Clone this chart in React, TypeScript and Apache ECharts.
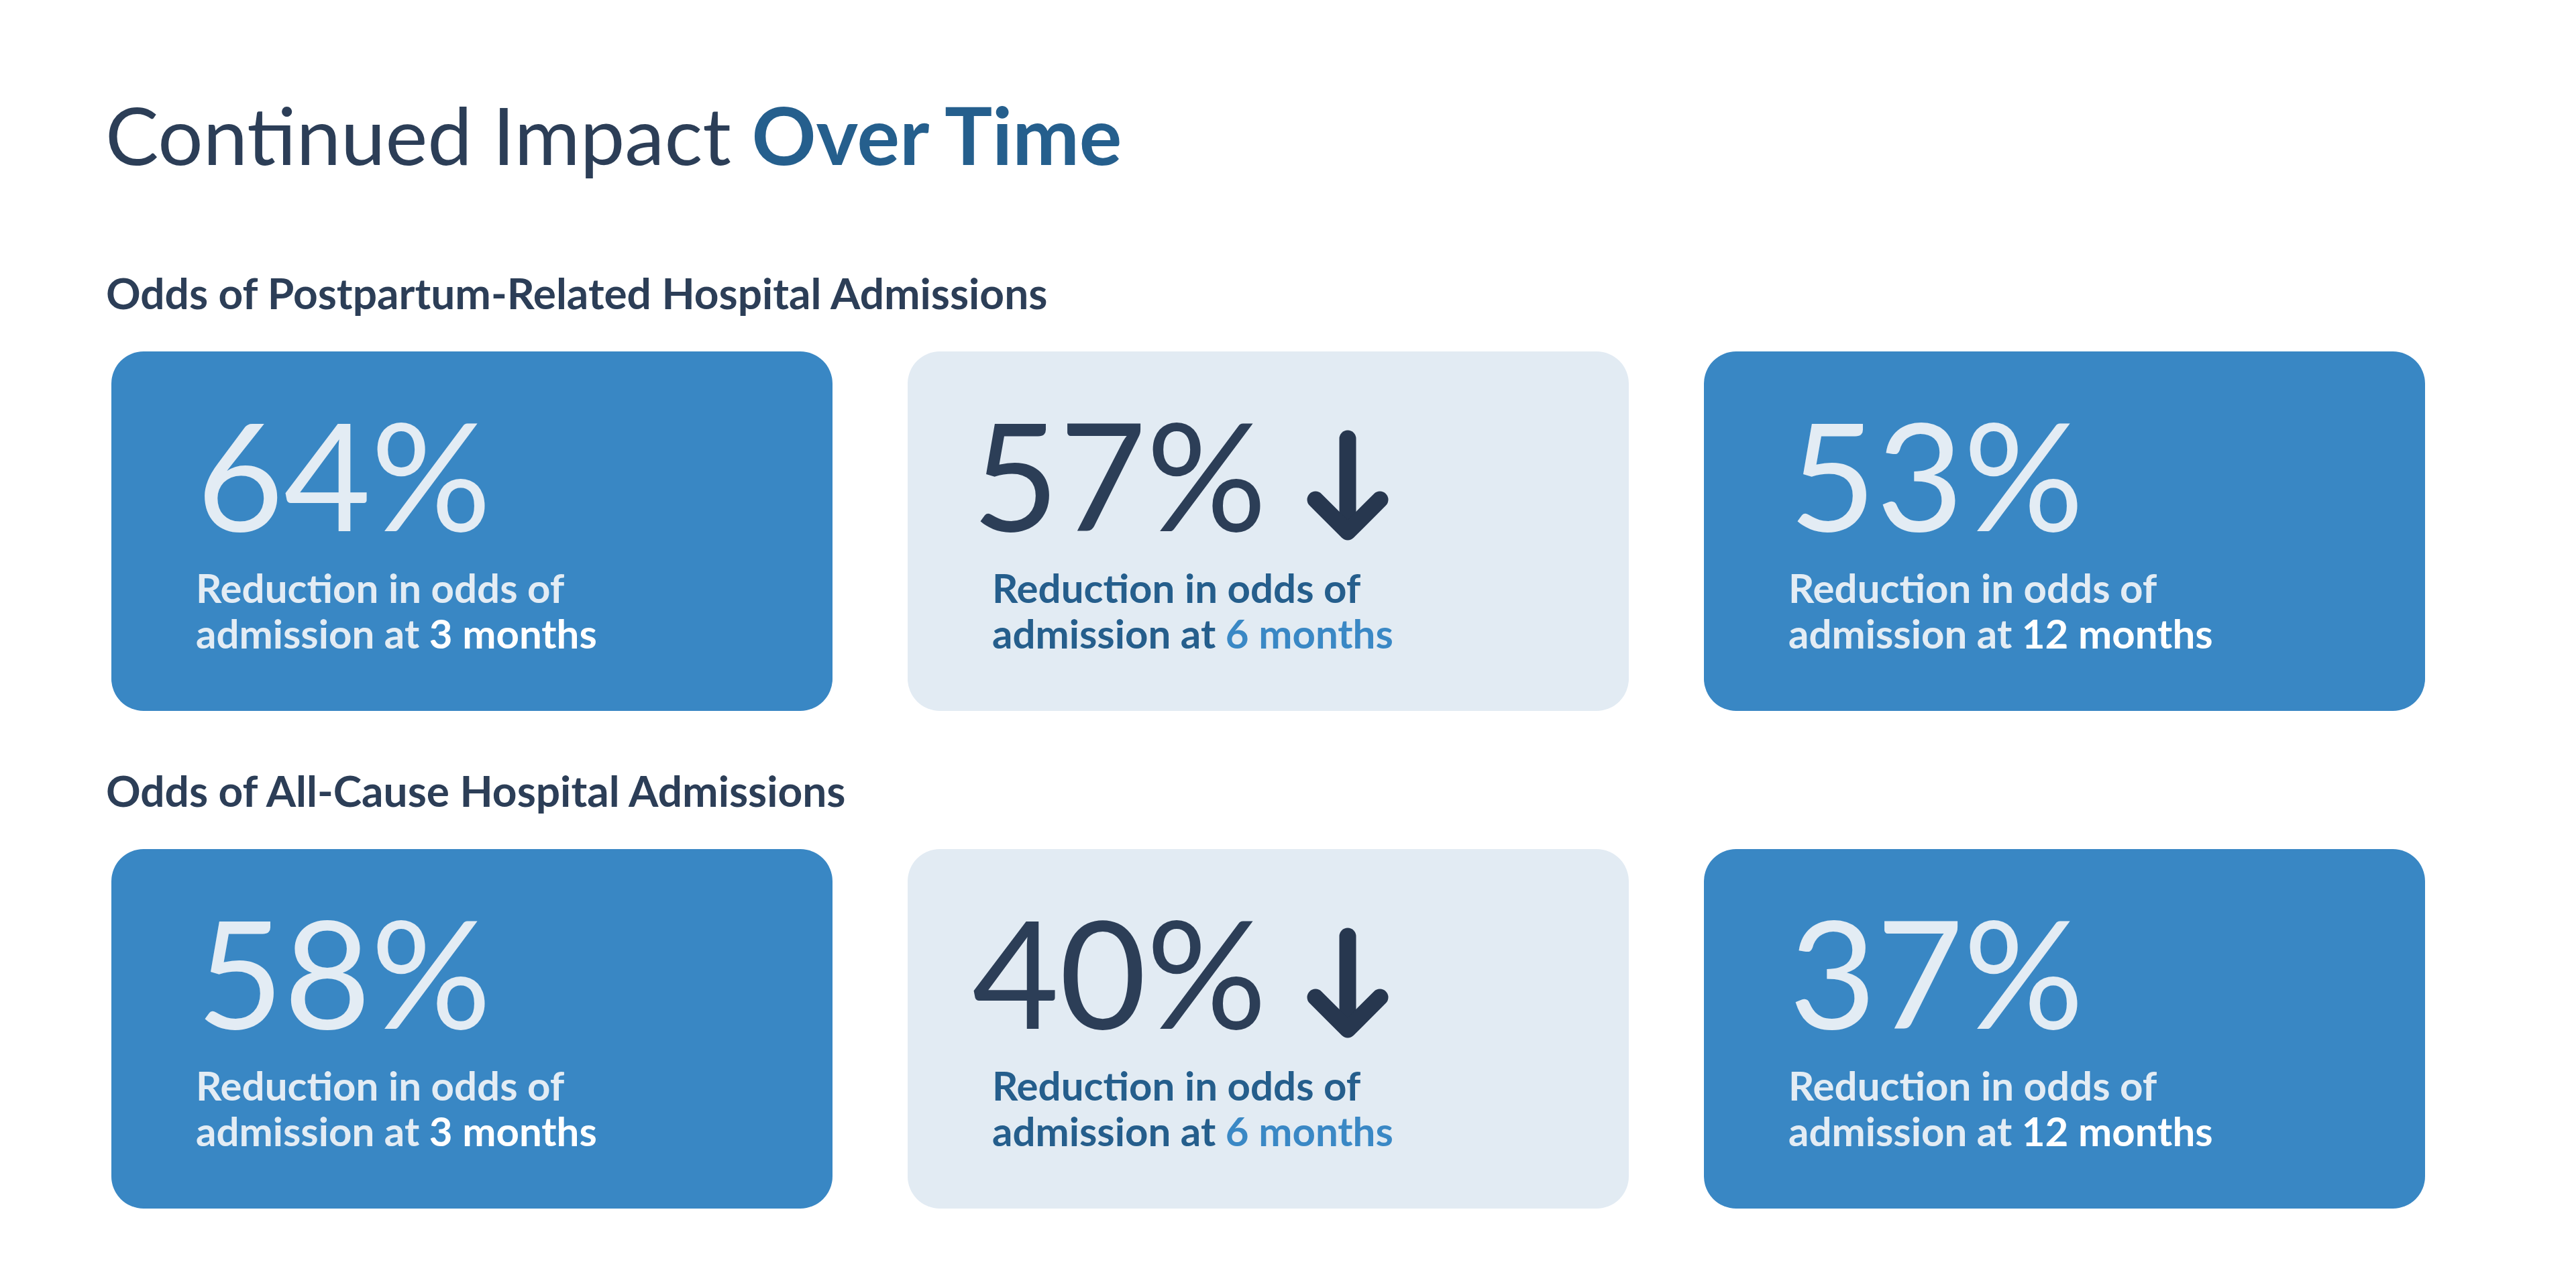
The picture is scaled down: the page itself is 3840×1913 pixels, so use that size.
import React, { useEffect, useRef } from "react";
import * as echarts from "echarts";

// ---- Content / data ----
const titleLight = "Continued Impact ";
const titleBold = "Over Time";
const sectionTitles = [
  "Odds of Postpartum-Related Hospital Admissions",
  "Odds of All-Cause Hospital Admissions",
];
const postpartumReduction = [64, 57, 53];
const allCauseReduction = [58, 40, 37];
const monthLabels = ["3 months", "6 months", "12 months"];
const labelLine1 = "Reduction in odds of";
const labelLine2Prefix = "admission at ";
const highlightIndex = 1; // middle card: light background with down arrow

// ---- Layout ----
const W = 3840;
const H = 1913;
const FONT = "Lato, 'Noto Sans', sans-serif";
const cardLeft = [166, 1353, 2540];
const cardW = 1075;
const cardH = 536;
const rowTop = [524, 1266];
const sectionY = [436, 1178];

const C = {
  dark: "#2C3E57",
  titleBlue: "#255F8D",
  cardBlue: "#3987C4",
  cardLight: "#E2EBF3",
  onBlue: "#E3ECF4",
  onBlueHi: "#FFFFFF",
  midLabel: "#255E8C",
  midHi: "#3A88C5",
  arrow: "#27374F",
};

function buildGraphics() {
  const els: any[] = [];
  els.push({
    type: "text",
    x: 157,
    y: 200,
    style: {
      text: `{l|${titleLight}}{b|${titleBold}}`,
      verticalAlign: "middle",
      align: "left",
      rich: {
        l: { fill: C.dark, fontSize: 119, lineHeight: 120, fontWeight: 400, fontFamily: FONT },
        b: { fill: C.titleBlue, fontSize: 119, lineHeight: 120, fontWeight: 700, fontFamily: FONT },
      },
    },
  });
  const rows = [postpartumReduction, allCauseReduction];
  rows.forEach((vals, r) => {
    els.push({
      type: "text",
      x: 158,
      y: sectionY[r],
      style: {
        text: sectionTitles[r],
        fill: C.dark,
        fontSize: 64,
        lineHeight: 64,
        fontWeight: 700,
        fontFamily: FONT,
        verticalAlign: "middle",
        align: "left",
      },
    });
    vals.forEach((v, i) => {
      const x0 = cardLeft[i];
      const y0 = rowTop[r];
      const hi = i === highlightIndex;
      els.push({
        type: "rect",
        shape: { x: x0, y: y0, width: cardW, height: cardH, r: 48 },
        style: { fill: hi ? C.cardLight : C.cardBlue },
      });
      els.push({
        type: "text",
        x: x0 + (hi ? 96 : 127),
        y: y0 + 181,
        style: {
          text: `${v}%`,
          fill: hi ? C.dark : C.onBlue,
          fontSize: 224,
          lineHeight: 170,
          fontWeight: 400,
          fontFamily: FONT,
          verticalAlign: "middle",
          align: "left",
        },
      });
      els.push({
        type: "text",
        x: x0 + 126,
        y: y0 + 352,
        style: {
          text: labelLine1,
          fill: hi ? C.midLabel : C.onBlue,
          fontSize: 60,
          lineHeight: 56,
          fontWeight: 700,
          fontFamily: FONT,
          verticalAlign: "middle",
          align: "left",
        },
      });
      els.push({
        type: "text",
        x: x0 + 126,
        y: y0 + 420,
        style: {
          text: `{a|${labelLine2Prefix}}{b|${monthLabels[i]}}`,
          verticalAlign: "middle",
          align: "left",
          rich: {
            a: { fill: hi ? C.midLabel : C.onBlue, fontSize: 60, lineHeight: 56, fontWeight: 700, fontFamily: FONT },
            b: { fill: hi ? C.midHi : C.onBlueHi, fontSize: 60, lineHeight: 56, fontWeight: 700, fontFamily: FONT },
          },
        },
      });
      if (hi) {
        const cx = x0 + 656;
        const top = y0 + 130;
        const tip = y0 + 269;
        const arm = 48;
        const arrowStyle = {
          stroke: C.arrow,
          lineWidth: 25,
          lineCap: "round",
          lineJoin: "round",
          fill: "none",
        };
        els.push({
          type: "line",
          shape: { x1: cx, y1: top, x2: cx, y2: tip - 4 },
          style: arrowStyle,
        });
        els.push({
          type: "polyline",
          shape: { points: [[cx - arm, tip - arm], [cx, tip], [cx + arm, tip - arm]] },
          style: arrowStyle,
        });
      }
    });
  });
  return els;
}

export default function App() {
  const ref = useRef<HTMLDivElement>(null);
  useEffect(() => {
    document.body.style.margin = "0";
    if (!ref.current) return;
    const chart = echarts.init(ref.current, undefined, { renderer: "svg" });
    chart.setOption({
      animation: false,
      backgroundColor: "#FFFFFF",
      graphic: { elements: buildGraphics() },
    });
    return () => chart.dispose();
  }, []);
  return (
    <div
      ref={ref}
      style={{ position: "absolute", left: 0, top: 0, width: W + "px", height: H + "px" }}
    />
  );
}
